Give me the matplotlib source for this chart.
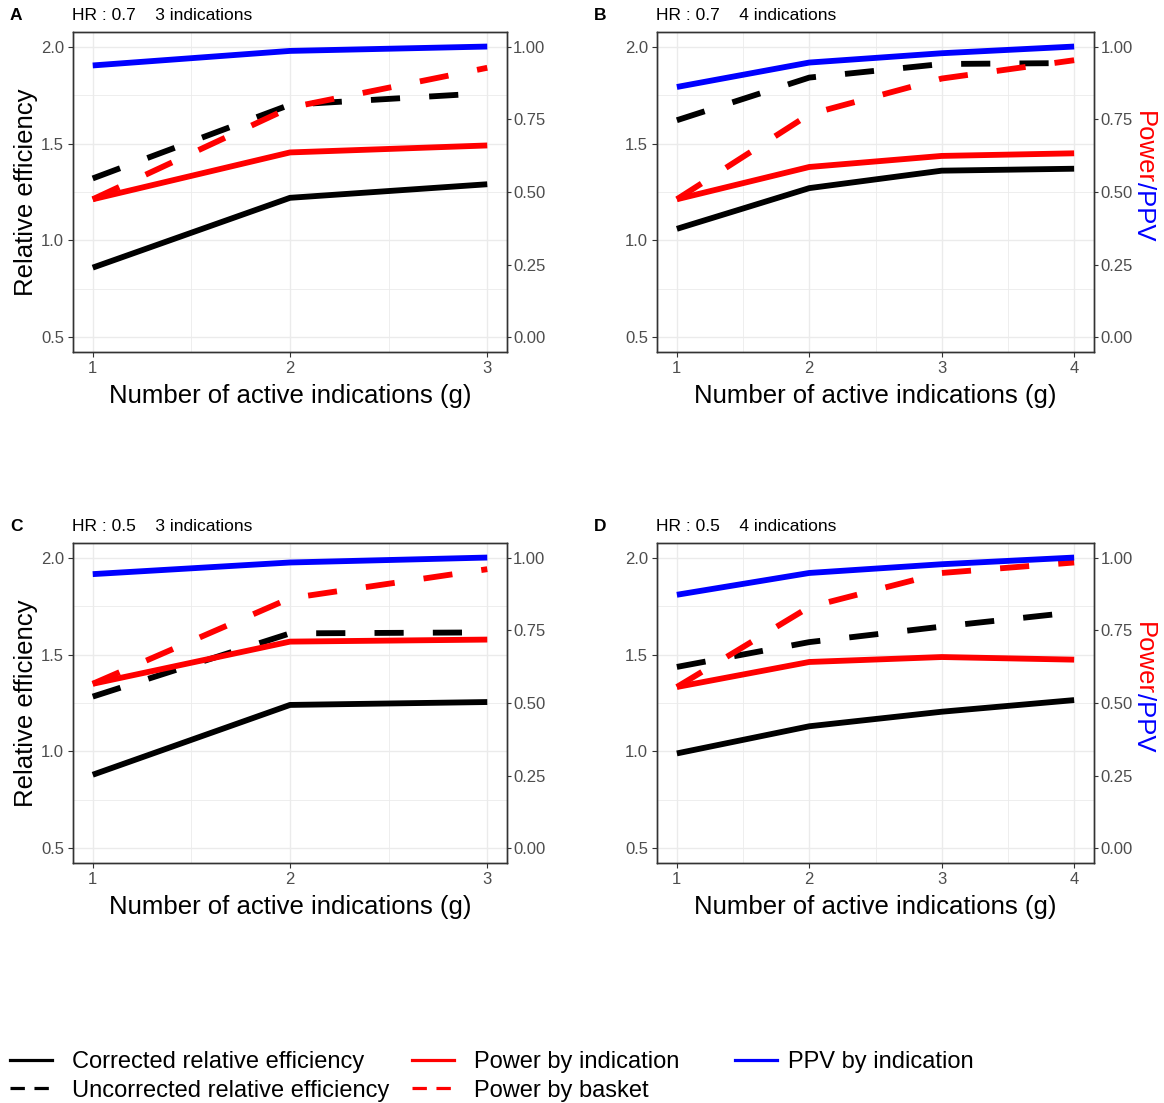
import matplotlib
matplotlib.use("Agg")
import matplotlib.pyplot as plt
from matplotlib.lines import Line2D

plt.rcParams["font.family"] = ["Liberation Sans", "DejaVu Sans"]

# ── data ──────────────────────────────────────────────────────────────────────
x3 = [1, 2, 3]
x4 = [1, 2, 3, 4]

# A: HR 0.7, 3 indications
a_corr     = [0.86, 1.22, 1.29]
a_uncorr   = [1.32, 1.70, 1.76]
a_pow_ind  = [0.475, 0.636, 0.66]
a_pow_bask = [0.475, 0.79, 0.927]
a_ppv      = [0.935, 0.985, 1.0]

# B: HR 0.7, 4 indications
b_corr     = [1.06, 1.27, 1.36, 1.37]
b_uncorr   = [1.62, 1.84, 1.91, 1.915]
b_pow_ind  = [0.475, 0.586, 0.624, 0.633]
b_pow_bask = [0.475, 0.767, 0.89, 0.953]
b_ppv      = [0.861, 0.945, 0.977, 1.0]

# C: HR 0.5, 3 indications
c_corr     = [0.88, 1.24, 1.255]
c_uncorr   = [1.283, 1.609, 1.614]
c_pow_ind  = [0.566, 0.711, 0.718]
c_pow_bask = [0.566, 0.86, 0.96]
c_ppv      = [0.943, 0.983, 1.0]

# D: HR 0.5, 4 indications
d_corr     = [0.99, 1.13, 1.205, 1.265]
d_uncorr   = [1.436, 1.564, 1.644, 1.718]
d_pow_ind  = [0.555, 0.641, 0.658, 0.649]
d_pow_bask = [0.555, 0.83, 0.947, 0.983]
d_ppv      = [0.872, 0.947, 0.977, 1.0]

left_ticks  = [0.5, 1.0, 1.5, 2.0]
right_ticks = [0.0, 0.25, 0.5, 0.75, 1.0]

# ── style ─────────────────────────────────────────────────────────────────────
W, H, DPI = 1164, 1103, 100
BORDER = "#333333"
TICKTXT = "#4D4D4D"
GRID = "#EBEBEB"
LW = 4.2
DASH = (5, 5)

fig = plt.figure(figsize=(W / DPI, H / DPI), dpi=DPI, facecolor="white")


def px_rect(l, t, r, b):
    return [l / W, (H - b) / H, (r - l) / W, (b - t) / H]


def panel(rect, x, corr, uncorr, pow_ind, pow_bask, ppv, letter, title,
          ylabel=False, rlabel=False):
    ax = fig.add_axes(px_rect(*rect))
    xmin, xmax = x[0], x[-1]
    pad = (xmax - xmin) * 0.05
    ax.set_xlim(xmin - pad, xmax + pad)
    ax.set_ylim(0.425, 2.075)
    ax.set_xticks(x)
    ax.set_xticks([v + 0.5 for v in x[:-1]], minor=True)
    ax.set_yticks(left_ticks)
    ax.set_yticks([0.75, 1.25, 1.75], minor=True)
    ax.set_yticklabels(["0.5", "1.0", "1.5", "2.0"])
    ax.grid(True, which="major", color=GRID, lw=1.0, zorder=0)
    ax.grid(True, which="minor", color=GRID, lw=0.6, zorder=0)
    ax.set_axisbelow(True)
    ax.tick_params(which="minor", length=0)
    ax.tick_params(which="major", length=3.5, width=0.8, color=BORDER,
                   labelcolor=TICKTXT, labelsize=12, pad=3)
    for s in ax.spines.values():
        s.set_color(BORDER)
        s.set_linewidth(1.0)

    ax.plot(x, corr, color="black", lw=LW, solid_capstyle="butt", zorder=3)
    ax.plot(x, uncorr, color="black", lw=LW, dashes=DASH, dash_capstyle="butt", zorder=3)

    ax2 = ax.twinx()
    ax2.set_ylim(-0.05, 1.05)
    ax2.set_yticks(right_ticks)
    ax2.set_yticklabels(["0.00", "0.25", "0.50", "0.75", "1.00"])
    ax2.tick_params(length=3, width=0.8, color=BORDER, labelcolor=TICKTXT,
                    labelsize=12, pad=1.5)
    for s in ax2.spines.values():
        s.set_color(BORDER)
        s.set_linewidth(1.0)
    ax2.plot(x, pow_ind, color="red", lw=LW, solid_capstyle="butt", zorder=3)
    ax2.plot(x, pow_bask, color="red", lw=LW, dashes=DASH, dash_capstyle="butt", zorder=3)
    ax2.plot(x, ppv, color="blue", lw=LW, solid_capstyle="butt", zorder=4)

    ax.set_xlabel("Number of active indications (g)", fontsize=18.5,
                  color="black", labelpad=6)
    if ylabel:
        ax.set_ylabel("Relative efficiency", fontsize=18.5, color="black", labelpad=2)

    l, t = rect[0], rect[1]
    fig.text((l - 63) / W, 1 - (t - 17) / H, letter, fontsize=12.5, fontweight="bold",
             va="center", ha="left")
    fig.text((l - 1) / W, 1 - (t - 17) / H, title, fontsize=12.5, va="center", ha="left")

    if rlabel:
        # two-colour rotated axis title: red "Power", blue "/PPV"
        ytop = t + 79
        xb = (rect[2] + 43) / W
        t1 = fig.text(xb, 1 - ytop / H, "Power", color="red", fontsize=18.5,
                      rotation=270, rotation_mode="anchor", ha="left", va="baseline")
        r = fig.canvas.get_renderer()
        bb = t1.get_window_extent(renderer=r)
        fig.text(xb, (bb.y0 + 2) / H, "/PPV", color="blue", fontsize=18.5,
                 rotation=270, rotation_mode="anchor", ha="left", va="baseline")
    return ax


panel((73, 32, 507, 352), x3, a_corr, a_uncorr, a_pow_ind, a_pow_bask, a_ppv,
      "A", "HR : 0.7    3 indications", ylabel=True)
panel((657, 32, 1094, 352), x4, b_corr, b_uncorr, b_pow_ind, b_pow_bask, b_ppv,
      "B", "HR : 0.7    4 indications", rlabel=True)
panel((73, 543, 507, 863), x3, c_corr, c_uncorr, c_pow_ind, c_pow_bask, c_ppv,
      "C", "HR : 0.5    3 indications", ylabel=True)
panel((657, 543, 1094, 863), x4, d_corr, d_uncorr, d_pow_ind, d_pow_bask, d_ppv,
      "D", "HR : 0.5    4 indications", rlabel=True)

# ── legend ────────────────────────────────────────────────────────────────────
legend_cols = [
    (10, 0.85, [("black", None, "Corrected relative efficiency"),
                ("black", (4.5, 3), "Uncorrected relative efficiency")]),
    (412, 0.85, [("red", None, "Power by indication"),
                 ("red", (4.5, 3), "Power by basket")]),
    (735, 0.45, [("blue", None, "PPV by indication")]),
]
for xpx, tpad, items in legend_cols:
    hs, ls = [], []
    for col, dash, lab in items:
        kw = {"dashes": dash} if dash else {}
        hs.append(Line2D([], [], color=col, lw=2.3, **kw))
        ls.append(lab)
    fig.legend(hs, ls, loc="upper left", bbox_to_anchor=(xpx / W, 1 - 1051 / H),
               frameon=False, fontsize=17, handlelength=1.78, handletextpad=tpad,
               labelspacing=0.28, borderaxespad=0, borderpad=0)

fig.savefig("out.png", dpi=DPI, facecolor="white")
